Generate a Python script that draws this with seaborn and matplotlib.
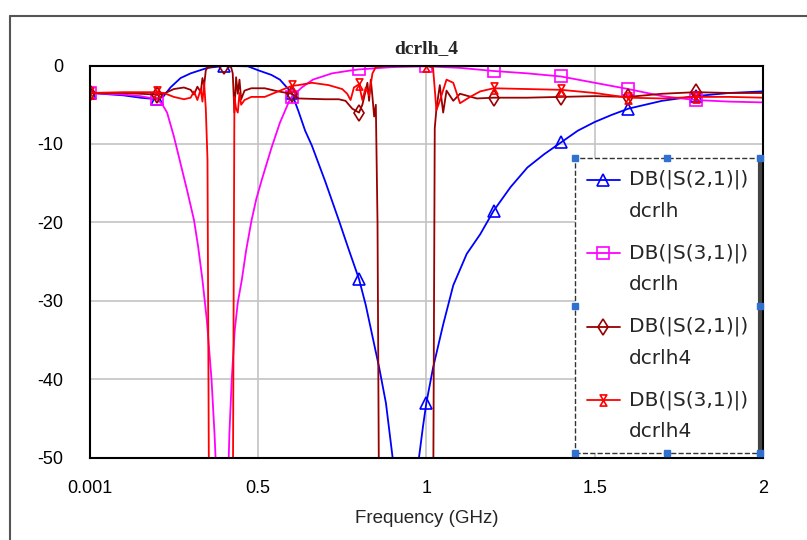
import numpy as np
import matplotlib
matplotlib.use("Agg")
import matplotlib.pyplot as plt
from matplotlib.lines import Line2D
from matplotlib.path import Path
from matplotlib.legend_handler import HandlerLine2D
import seaborn as sns

# marker positions (GHz) used by all four traces
marker_freqs = [0.001, 0.2, 0.4, 0.6, 0.8, 1.0, 1.2, 1.4, 1.6, 1.8]

# DB(|S(2,1)|) dcrlh  (blue)
f_s21_dcrlh = [0.001, 0.1, 0.15, 0.2, 0.22, 0.24, 0.27, 0.3, 0.35, 0.4, 0.47, 0.5,
               0.54, 0.565, 0.59, 0.6, 0.62, 0.64, 0.66, 0.68, 0.7, 0.74, 0.77, 0.8,
               0.82, 0.84, 0.86, 0.88, 0.9, 0.92, 0.95, 0.975, 0.99, 1.0, 1.02, 1.05,
               1.08, 1.12, 1.16, 1.2, 1.25, 1.3, 1.35, 1.4, 1.45, 1.5, 1.55, 1.6, 1.7,
               1.8, 1.9, 2.0]
db_s21_dcrlh = [-3.5, -3.8, -4.1, -4.3, -3.9, -2.8, -1.6, -1.0, -0.3, -0.05, -0.1, -0.6,
                -1.2, -1.8, -3.0, -3.5, -5.8, -8.3, -10.2, -12.5, -14.8, -19.7, -23.5, -27.2,
                -30.5, -34.5, -38.5, -43.0, -50.0, -56.0, -60.0, -51.0, -46.0, -43.0, -38.5, -33.0,
                -28.0, -24.0, -21.5, -18.5, -15.5, -13.0, -11.3, -9.8, -8.3, -7.2, -6.3, -5.5, -4.5,
                -3.9, -3.5, -3.3]

# DB(|S(3,1)|) dcrlh  (magenta)
f_s31_dcrlh = [0.001, 0.1, 0.15, 0.2, 0.215, 0.23, 0.25, 0.27, 0.29, 0.31, 0.322, 0.335,
               0.348, 0.362, 0.371, 0.376, 0.39, 0.4, 0.41, 0.415, 0.422, 0.431, 0.44,
               0.452, 0.465, 0.481, 0.495, 0.511, 0.54, 0.565, 0.594, 0.6, 0.63, 0.663,
               0.72, 0.78, 0.8, 0.9, 1.0, 1.1, 1.2, 1.3, 1.4, 1.5, 1.6, 1.7, 1.8, 1.9, 2.0]
db_s31_dcrlh = [-3.5, -3.7, -3.9, -4.3, -4.9, -6.0, -9.0, -12.5, -16.0, -19.7, -23.0, -27.3,
                -32.4, -40.0, -47.0, -52.0, -62.0, -65.0, -55.0, -47.0, -40.0, -33.7, -30.2,
                -27.3, -23.5, -19.7, -17.0, -14.6, -10.5, -7.3, -4.4, -4.0, -2.8, -1.8,
                -1.0, -0.6, -0.5, -0.2, -0.1, -0.3, -0.7, -1.0, -1.4, -2.2, -3.0, -3.9, -4.4,
                -4.6, -4.7]

# DB(|S(2,1)|) dcrlh4  (dark red)
f_s21_dcrlh4 = [0.001, 0.1, 0.2, 0.22, 0.25, 0.28, 0.3, 0.31, 0.32, 0.33, 0.335, 0.34,
                0.345, 0.35, 0.37, 0.4, 0.42, 0.425, 0.43, 0.435, 0.44, 0.445, 0.45, 0.46,
                0.48, 0.52, 0.56, 0.6, 0.62, 0.7, 0.74, 0.76, 0.78, 0.8, 0.81, 0.82, 0.825,
                0.83, 0.835, 0.84, 0.845, 0.85, 0.855, 0.86, 0.9, 0.95, 1.0, 1.02, 1.025,
                1.03, 1.04, 1.05, 1.06, 1.08, 1.1, 1.15, 1.2, 1.3, 1.4, 1.5, 1.6, 1.7, 1.8,
                1.9, 2.0]
db_s21_dcrlh4 = [-3.5, -3.5, -3.7, -3.6, -3.0, -2.8, -3.1, -3.7, -2.7, -3.4, -1.6, -2.6,
                 -0.6, -0.3, -0.1, 0.0, -0.2, -1.0, -6.0, -1.5, -3.6, -1.8, -4.3, -3.2,
                 -2.9, -2.9, -3.3, -3.6, -4.2, -4.3, -4.3, -4.5, -5.5, -6.0, -5.0, -3.2, -2.2,
                 -4.5, -1.8, -4.0, -6.5, -5.0, -20.0, -60.0, -70.0, -80.0, -70.0, -60.0, -8.0,
                 -5.5, -2.5, -6.0, -3.2, -4.5, -3.6, -4.2, -4.1, -4.1, -4.0, -3.9, -4.0, -3.6, -3.4,
                 -3.5, -3.5]

# DB(|S(3,1)|) dcrlh4  (red)
f_s31_dcrlh4 = [0.001, 0.1, 0.2, 0.22, 0.25, 0.28, 0.3, 0.31, 0.32, 0.33, 0.335, 0.34,
                0.345, 0.35, 0.355, 0.4, 0.425, 0.43, 0.435, 0.44, 0.445, 0.45, 0.46, 0.48,
                0.52, 0.56, 0.6, 0.62, 0.66, 0.71, 0.75, 0.765, 0.775, 0.785, 0.8, 0.81,
                0.82, 0.83, 0.84, 0.85, 0.9, 1.0, 1.02, 1.025, 1.03, 1.04, 1.06, 1.08, 1.1,
                1.13, 1.16, 1.2, 1.3, 1.4, 1.5, 1.6, 1.7, 1.8, 1.9, 2.0]
db_s31_dcrlh4 = [-3.5, -3.4, -3.4, -3.5, -4.0, -4.3, -4.1, -3.3, -4.4, -3.0, -4.6, -2.2,
                 -5.5, -12.0, -60.0, -80.0, -60.0, -4.0, -5.5, -6.0, -3.5, -5.0, -4.4, -4.0,
                 -4.0, -3.3, -2.6, -2.5, -2.2, -2.5, -3.0, -3.6, -4.4, -2.8, -2.4, -4.4,
                 -2.8, -3.8, -1.0, -0.2, 0.0, 0.0, -0.3, -3.0, -5.7, -4.5, -1.8, -2.2, -4.8,
                 -4.0, -3.3, -2.9, -3.0, -3.1, -3.5, -4.1, -4.2, -4.0, -4.0, -4.1]

x_ticks = [0.001, 0.5, 1, 1.5, 2]
x_labels = ["0.001", "0.5", "1", "1.5", "2"]
y_ticks = [0, -10, -20, -30, -40, -50]

sns.set_style("white")
plt.rcParams["font.family"] = ["Liberation Sans", "DejaVu Sans"]
plt.rcParams["axes.unicode_minus"] = False

fig = plt.figure(figsize=(8.07, 5.4), dpi=100)
ax = fig.add_axes([0.1115, 0.1519, 0.834, 0.7268])

hourglass = Path([(-0.6, 1), (0.6, 1), (-0.6, -1), (0.6, -1), (-0.6, 1)],
                 [Path.MOVETO, Path.LINETO, Path.LINETO, Path.LINETO, Path.CLOSEPOLY])

series = [
    (f_s21_dcrlh, db_s21_dcrlh, "#0000ff", "^", "DB(|S(2,1)|)\ndcrlh"),
    (f_s31_dcrlh, db_s31_dcrlh, "#ff00ff", "s", "DB(|S(3,1)|)\ndcrlh"),
    (f_s21_dcrlh4, db_s21_dcrlh4, "#990000", "d", "DB(|S(2,1)|)\ndcrlh4"),
    (f_s31_dcrlh4, db_s31_dcrlh4, "#ff0000", hourglass, "DB(|S(3,1)|)\ndcrlh4"),
]

handles = []
for f, db, color, mk, label in series:
    marks = [i for i, v in enumerate(f) if np.isclose(v, marker_freqs).any()]
    sns.lineplot(x=f, y=db, ax=ax, color=color, lw=1.3, errorbar=None,
                 marker=mk, markevery=marks, markersize=8, markerfacecolor="none",
                 markeredgecolor=color, markeredgewidth=1.2)
    handles.append(Line2D([], [], color=color, lw=1.3, marker=mk, markersize=8,
                          markerfacecolor="none", markeredgecolor=color,
                          markeredgewidth=1.2, label=label))

ax.set_xlim(0.001, 2)
ax.set_ylim(-50, 0)
ax.set_xticks(x_ticks)
ax.set_xticklabels(x_labels)
ax.set_yticks(y_ticks)
ax.tick_params(axis="both", length=0, labelsize=13, colors="black")
ax.tick_params(axis="y", pad=19)
ax.tick_params(axis="x", pad=16)
ax.grid(True, color="#c4c4c4", lw=1.2)
for s in ax.spines.values():
    s.set_color("black")
    s.set_linewidth(1.5)

ax.set_xlabel("Frequency (GHz)", fontsize=13.5, labelpad=9)
ax.set_ylabel("")
ax.set_title("dcrlh_4", fontsize=14, fontweight="bold", family="Liberation Serif", pad=9)


# legend symbol sits on the first line of the two-line label
class FirstLineHandler(HandlerLine2D):
    def create_artists(self, legend, orig_handle, xdescent, ydescent, width, height,
                       fontsize, trans):
        arts = super().create_artists(legend, orig_handle, xdescent, ydescent, width,
                                      height, fontsize, trans)
        for a in arts:
            a.set_ydata(np.asarray(a.get_ydata()) + 0.8 * fontsize)
        return arts


leg = ax.legend(handles=handles, loc="upper right", bbox_to_anchor=(0.996, 0.765),
                borderaxespad=0, prop={"family": "DejaVu Sans", "size": 14.5},
                handlelength=1.65, handletextpad=0.45, labelspacing=1.1, borderpad=0.6,
                numpoints=1, fancybox=False, framealpha=1, edgecolor="#333333",
                handler_map={Line2D: FirstLineHandler()})
for t in leg.get_texts():
    t.set_linespacing(1.85)
leg.get_frame().set_linestyle("--")
leg.get_frame().set_linewidth(1.0)

# outer frame of the graph window
fig.add_artist(Line2D([10 / 807, 10 / 807], [0, 1 - 16 / 540], transform=fig.transFigure,
                      color="#555555", lw=1.5))
fig.add_artist(Line2D([10 / 807, 1], [1 - 16 / 540, 1 - 16 / 540], transform=fig.transFigure,
                      color="#555555", lw=1.5))

# selection handles around the legend
fig.canvas.draw()
bb = leg.get_window_extent().transformed(fig.transFigure.inverted())
hx = [bb.x0, bb.x1, bb.x0, bb.x1, (bb.x0 + bb.x1) / 2, (bb.x0 + bb.x1) / 2, bb.x0, bb.x1]
hy = [bb.y0, bb.y0, bb.y1, bb.y1, bb.y0, bb.y1, (bb.y0 + bb.y1) / 2, (bb.y0 + bb.y1) / 2]
fig.add_artist(Line2D([bb.x1, bb.x1], [bb.y0, bb.y1], transform=fig.transFigure,
                      color="#444444", lw=3))
fig.add_artist(Line2D(hx, hy, transform=fig.transFigure, ls="none", marker="s",
                      markersize=4, color="#3070d0"))

fig.savefig("out.png", dpi=100, facecolor="white")
